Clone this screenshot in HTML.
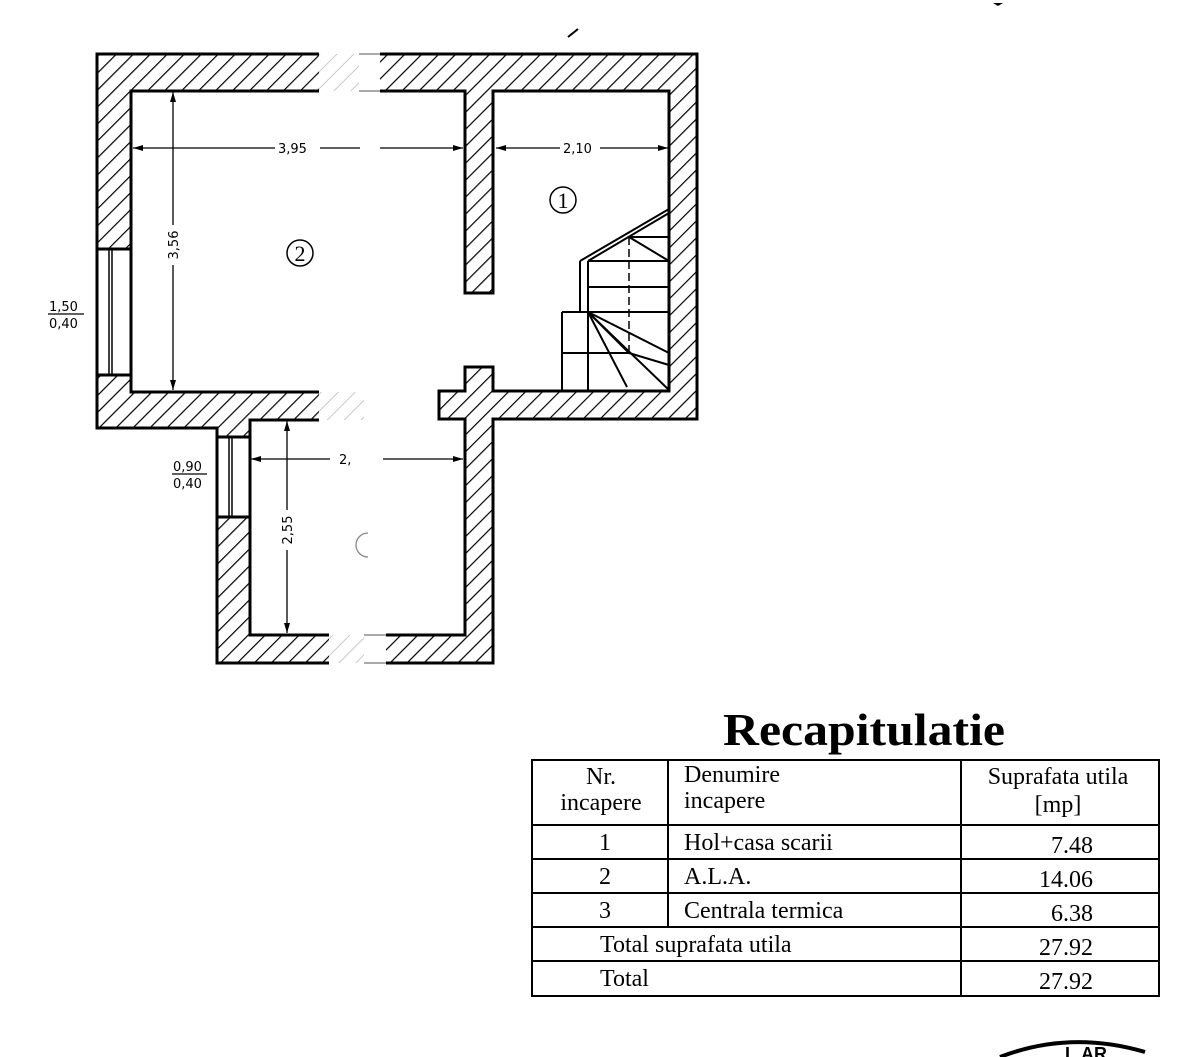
<!DOCTYPE html>
<html><head><meta charset="utf-8"><style>
html,body{margin:0;padding:0;background:#fff;}
svg{display:block;}
</style></head><body>
<svg width="1200" height="1057" viewBox="0 0 1200 1057" xmlns="http://www.w3.org/2000/svg">
<defs>
<pattern id="h" patternUnits="userSpaceOnUse" width="12" height="12" patternTransform="rotate(45)">
<rect width="12" height="12" fill="#fff"/><line x1="0" y1="0" x2="0" y2="12" stroke="#000" stroke-width="2.4"/>
</pattern>
<pattern id="hl" patternUnits="userSpaceOnUse" width="12" height="12" patternTransform="rotate(45)">
<rect width="12" height="12" fill="#fff"/><line x1="0" y1="0" x2="0" y2="12" stroke="#bbb" stroke-width="1.6"/>
</pattern>
<marker id="a" markerWidth="10" markerHeight="6" refX="10" refY="3" orient="auto" markerUnits="userSpaceOnUse"><path d="M0,0 L10,3 L0,6 Z" fill="#000"/></marker>
</defs>
<rect width="1200" height="1057" fill="#fff"/>
<path d="M568,37 L578,29" stroke="#000" stroke-width="2"/>
<path d="M993,3 L1003,3 L998,6 Z" fill="#000"/>

<g fill="url(#h)" stroke="none">
<rect x="97" y="54" width="222" height="37"/>
<rect x="380" y="54" width="317" height="37"/>
<rect x="97" y="91" width="34" height="158"/>
<rect x="97" y="375" width="34" height="54"/>
<rect x="669" y="91" width="28" height="328"/>
<rect x="131" y="392" width="188" height="28"/>
<rect x="97" y="392" width="120" height="36"/>
<rect x="217" y="420" width="33" height="17"/>
<rect x="465" y="91" width="28" height="202"/>
<rect x="439" y="391" width="258" height="28"/>
<rect x="465" y="367" width="28" height="296"/>
<rect x="217" y="517" width="33" height="146"/>
<rect x="217" y="635" width="112" height="28"/>
<rect x="386" y="635" width="107" height="28"/>
</g>
<g fill="url(#hl)">
<rect x="319" y="54" width="40" height="37"/>
<rect x="319" y="392" width="45" height="28"/>
<rect x="329" y="635" width="35" height="28"/>
</g>

<g stroke="#000" stroke-width="3" fill="none" stroke-linejoin="miter">
<path d="M319,54 L97,54 L97,428 L217,428 L217,663 L329,663"/>
<path d="M386,663 L493,663 L493,419 L697,419 L697,54 L380,54"/>
<path d="M319,91 L131,91 L131,392 L319,392"/>
<path d="M380,91 L465,91 L465,293 L493,293 L493,91 L669,91 L669,391 L493,391 L493,367 L465,367 L465,391 L439,391 L439,419 L465,419 L465,635 L386,635"/>
<path d="M329,635 L250,635 L250,420 L319,420"/>
<path d="M97,249 L131,249 M97,375 L131,375 M217,437 L250,437 M217,517 L250,517"/>
</g>
<g stroke="#000" stroke-width="1.5" fill="none">
<path d="M109,249 V375 M112,249 V375 M229,437 V517 M232,437 V517"/>
</g>
<g stroke="#aaa" stroke-width="2" fill="none"><path d="M359,54 H380 M359,91 H380 M364,635 H386 M364,663 H386"/></g>

<g stroke="#000" stroke-width="2" fill="none">
<path d="M580,261 L669,209 M588,261 L669,213"/>
<path d="M580,261 V312 M588,261 V392"/>
<path d="M588,261 H669 M588,287 H669 M588,312 H669 M629,237 H669"/>
<path d="M629,237 L669,261"/>
<path d="M562,312 H588 M562,312 V392 M562,353 H629 M629,353 L669,365"/>
<path d="M588,312 L669,353 M588,312 L669,390 M588,312 L627,387 M588,312 L629,353"/>
</g>
<path d="M629,237 V353" stroke="#000" stroke-width="1.5" stroke-dasharray="8,4" fill="none"/>

<g stroke="#000" stroke-width="1.3" fill="none">
<line x1="275" y1="148" x2="133" y2="148" marker-end="url(#a)"/>
<line x1="320" y1="148" x2="360" y2="148"/>
<line x1="380" y1="148" x2="463" y2="148" marker-end="url(#a)"/>
<line x1="560" y1="148" x2="496" y2="148" marker-end="url(#a)"/>
<line x1="600" y1="148" x2="668" y2="148" marker-end="url(#a)"/>
<line x1="173" y1="225" x2="173" y2="92" marker-end="url(#a)"/>
<line x1="173" y1="265" x2="173" y2="390" marker-end="url(#a)"/>
<line x1="330" y1="459" x2="251" y2="459" marker-end="url(#a)"/>
<line x1="383" y1="459" x2="463" y2="459" marker-end="url(#a)"/>
<line x1="287" y1="510" x2="287" y2="421" marker-end="url(#a)"/>
<line x1="287" y1="550" x2="287" y2="633" marker-end="url(#a)"/>
<line x1="48" y1="314" x2="84" y2="314"/>
<line x1="172" y1="474" x2="207" y2="474"/>
</g>
<g font-family="'DejaVu Sans',sans-serif" font-size="13" fill="#000">
<text x="278" y="153">3,95</text>
<text x="563" y="153">2,10</text>
<text x="339" y="464">2,</text>
<text transform="translate(178,245) rotate(-90)" text-anchor="middle">3,56</text>
<text transform="translate(292,530) rotate(-90)" text-anchor="middle">2,55</text>
<text x="49" y="311">1,50</text>
<text x="49" y="328">0,40</text>
<text x="173" y="471">0,90</text>
<text x="173" y="488">0,40</text>
</g>
<g font-family="'Liberation Serif',serif" fill="#000">
<circle cx="563" cy="200" r="13" stroke="#000" stroke-width="1.5" fill="none"/>
<text x="563" y="208" font-size="22" text-anchor="middle">1</text>
<circle cx="300" cy="253" r="13" stroke="#000" stroke-width="1.5" fill="none"/>
<text x="300" y="261" font-size="22" text-anchor="middle">2</text>
<path d="M368,533 A12,12 0 0 0 368,557" stroke="#888" stroke-width="1.3" fill="none"/>
</g>

<text x="864" y="745" font-family="'Liberation Serif',serif" font-weight="bold" font-size="46" text-anchor="middle" textLength="282" lengthAdjust="spacingAndGlyphs">Recapitulatie</text>
<g stroke="#000" stroke-width="2" fill="none">
<rect x="532" y="760" width="627" height="236"/>
<path d="M532,825 H1159 M532,859 H1159 M532,893 H1159 M532,927 H1159 M532,961 H1159"/>
<path d="M668,760 V927 M961,760 V996"/>
</g>
<g font-family="'Liberation Serif',serif" font-size="24" fill="#000">
<text x="601" y="784" text-anchor="middle">Nr.</text>
<text x="601" y="810" text-anchor="middle">incapere</text>
<text x="684" y="782">Denumire</text>
<text x="684" y="808">incapere</text>
<text x="1058" y="784" text-anchor="middle">Suprafata utila</text>
<text x="1058" y="812" text-anchor="middle">[mp]</text>
<text x="605" y="850" text-anchor="middle">1</text>
<text x="684" y="850">Hol+casa scarii</text>
<text x="1093" y="853" text-anchor="end">7.48</text>
<text x="605" y="884" text-anchor="middle">2</text>
<text x="684" y="884">A.L.A.</text>
<text x="1093" y="887" text-anchor="end">14.06</text>
<text x="605" y="918" text-anchor="middle">3</text>
<text x="684" y="918">Centrala termica</text>
<text x="1093" y="921" text-anchor="end">6.38</text>
<text x="600" y="952">Total suprafata utila</text>
<text x="1093" y="955" text-anchor="end">27.92</text>
<text x="600" y="986">Total</text>
<text x="1093" y="989" text-anchor="end">27.92</text>
</g>
<path d="M1000,1057 Q1070,1030 1145,1052" stroke="#000" stroke-width="4" fill="none"/>
<text x="1065" y="1060" font-family="'Liberation Sans',sans-serif" font-weight="bold" font-size="18">L.AR</text>
</svg>
</body></html>
